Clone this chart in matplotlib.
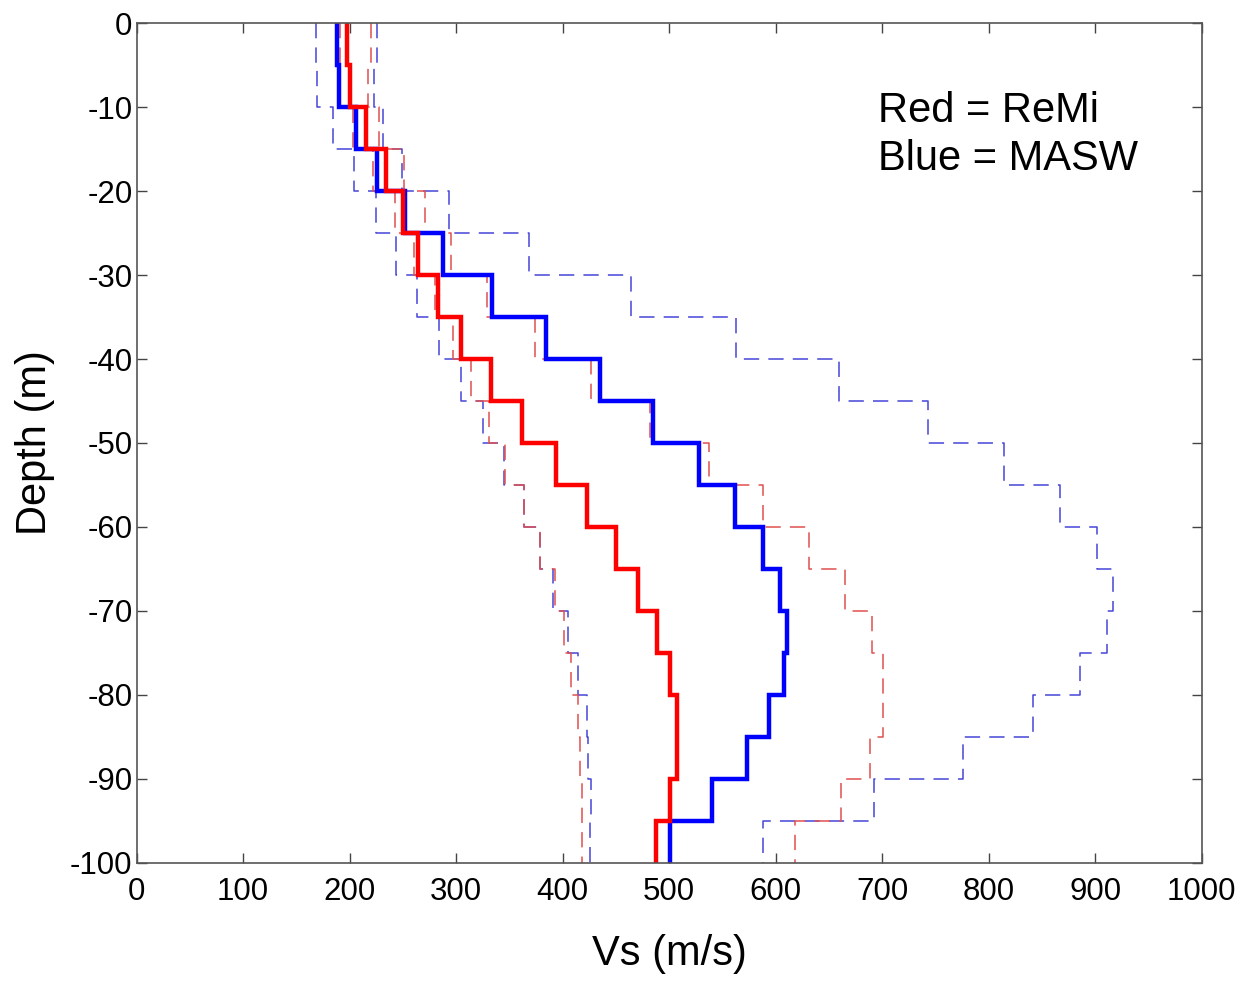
import matplotlib
matplotlib.use("Agg")
import matplotlib.pyplot as plt
import numpy as np

# layer boundaries (m), 5 m layers from the surface down to -100 m
layer_edges = np.arange(0, -105, -5)

# Vs of each layer (m/s), top layer first
remi_mean = [198, 200, 215, 234, 250, 264, 283, 305, 333, 362,
             394, 423, 450, 471, 489, 501, 507, 507, 501, 488]
remi_low = [191, 191, 203, 222, 243, 260, 280, 297, 314, 331,
            346, 364, 379, 393, 401, 408, 414, 416, 418, 418]
remi_high = [220, 217, 228, 251, 271, 295, 329, 374, 427, 482,
             537, 588, 631, 665, 690, 701, 701, 689, 661, 618]

masw_mean = [188, 190, 206, 226, 252, 288, 334, 384, 435, 485,
             528, 562, 588, 604, 611, 608, 594, 573, 540, 501]
masw_low = [168, 169, 184, 204, 225, 244, 263, 284, 305, 325,
            345, 364, 379, 391, 405, 414, 423, 424, 427, 426]
masw_high = [226, 223, 231, 249, 293, 368, 464, 563, 659, 743,
             814, 867, 902, 917, 911, 886, 842, 776, 692, 588]


def profile(values):
    # staircase: each layer is a vertical segment from its top to its bottom
    vs = np.repeat(values, 2)
    depth = np.column_stack([layer_edges[:-1], layer_edges[1:]]).ravel()
    return vs, depth


plt.rcParams["font.family"] = ["Liberation Sans", "DejaVu Sans"]
plt.rcParams["axes.unicode_minus"] = False

figure = plt.figure(figsize=(12.55, 9.83), dpi=100)
ax = figure.add_axes([0.1088, 0.1224, 0.8488, 0.8539])

dash_style = dict(linewidth=1.1, dashes=(10, 6))
for values, color in [(masw_low, "#4545d8"), (masw_high, "#4545d8"),
                      (remi_low, "#e05050"), (remi_high, "#e05050")]:
    ax.plot(*profile(values), color=color, **dash_style)

ax.plot(*profile(masw_mean), color="#0000ff", linewidth=3.2, solid_joinstyle="miter")
ax.plot(*profile(remi_mean), color="#ff0000", linewidth=3.2, solid_joinstyle="miter")

ax.text(696, -11.7, "Red = ReMi", fontsize=30, va="baseline")
ax.text(696, -17.5, "Blue = MASW", fontsize=30, va="baseline")

ax.set_xlim(0, 1000)
ax.set_ylim(-100, 0)
ax.set_xticks(np.arange(0, 1001, 100))
ax.set_yticks(np.arange(-100, 1, 10))
ax.tick_params(direction="in", length=7, width=1, top=True, right=True,
               labelsize=22.5, color="#444444")
ax.tick_params(axis="x", pad=10)
ax.tick_params(axis="y", pad=3)
for spine in ax.spines.values():
    spine.set_color("#555555")
    spine.set_linewidth(1.2)

ax.set_xlabel("Vs (m/s)", fontsize=30, labelpad=20)
ax.set_ylabel("Depth (m)", fontsize=30, labelpad=11)

figure.savefig("out.png", dpi=100)
